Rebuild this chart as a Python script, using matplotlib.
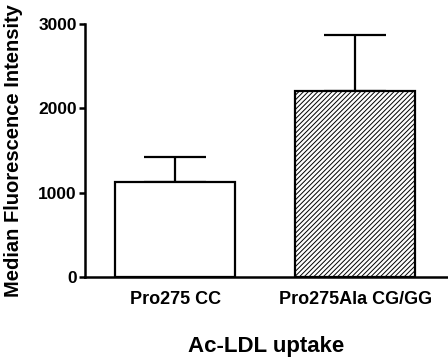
import matplotlib
matplotlib.use("Agg")
from matplotlib import pyplot as plt

groups = ["Pro275 CC", "Pro275Ala CG/GG"]
means = [1130, 2210]
sem = [290, 660]
hatches = ["", "///////"]

plt.rcParams["font.family"] = ["Liberation Sans", "DejaVu Sans"]
plt.rcParams["font.weight"] = "bold"
plt.rcParams["hatch.linewidth"] = 0.7

fig = plt.figure(figsize=(4.48, 3.62), dpi=100)
ax = fig.add_axes([0.19, 0.235, 0.808, 0.699])

pos = list(range(len(groups)))
ax.errorbar(pos, means, yerr=[[0] * len(sem), sem], fmt="none", ecolor="black",
            elinewidth=1.6, capsize=22, capthick=1.6, zorder=1)
for p, m, h in zip(pos, means, hatches):
    ax.bar(p, m, width=0.667, color="white", edgecolor="black", linewidth=1.6,
           hatch=h, zorder=2)

ax.set_xlim(-0.5, 1.51)
ax.set_ylim(0, 3000)
ax.set_yticks([0, 1000, 2000, 3000])
ax.set_xticks(pos)
ax.set_xticklabels(groups, fontsize=13, fontweight="bold")
ax.tick_params(axis="x", length=0, pad=10)
ax.tick_params(axis="y", length=4, width=1.8, labelsize=12.5, pad=2)
for lab in ax.get_yticklabels():
    lab.set_fontweight("bold")

for s in ["top", "right"]:
    ax.spines[s].set_visible(False)
for s in ["left", "bottom"]:
    ax.spines[s].set_linewidth(1.8)

ax.set_ylabel("Median Fluorescence Intensity", fontsize=14.5, fontweight="bold", labelpad=11)
ax.set_xlabel("Ac-LDL uptake", fontsize=16, fontweight="bold", labelpad=20)

fig.savefig("out.png", dpi=100)
